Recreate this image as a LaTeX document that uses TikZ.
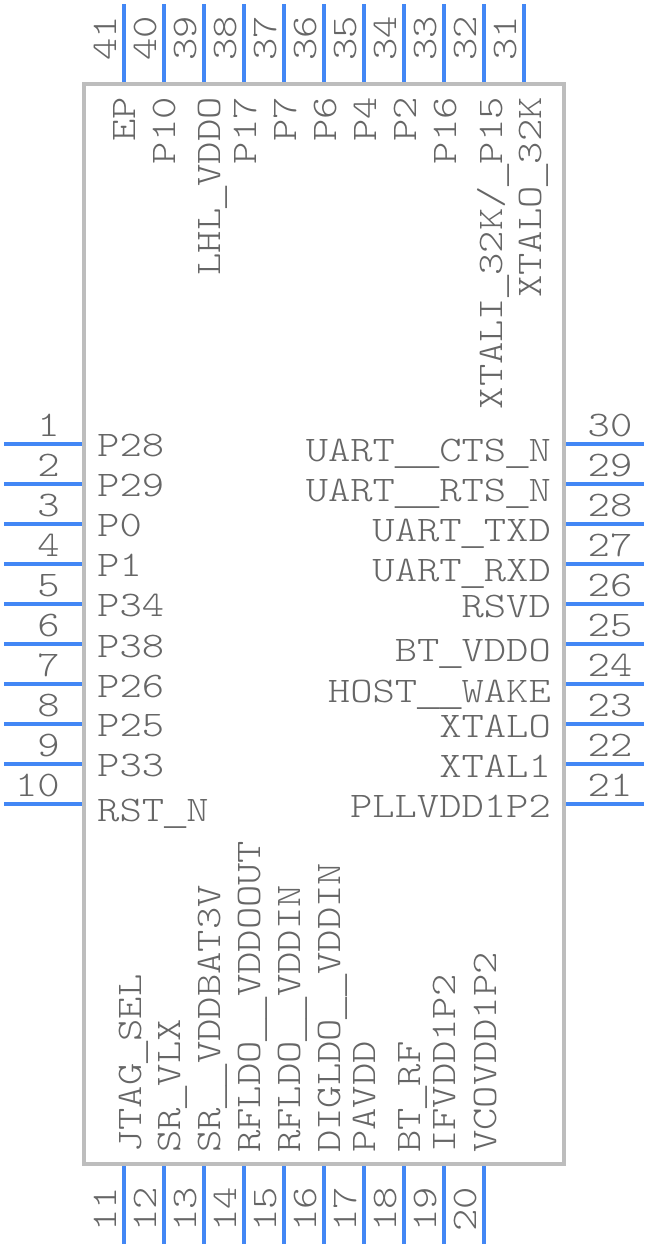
\documentclass[tikz,border=0pt]{standalone}
\usepackage{fontspec}
\newfontfamily\pinfont[FakeStretch=1.18]{Latin Modern Mono Light}
\newfontfamily\barfont{Liberation Mono}
\newcommand{\us}{\raisebox{-3pt}{\barfont\fontsize{37pt}{37pt}\selectfont\_}}
\definecolor{pinblue}{HTML}{4287F5}
\definecolor{bodygrey}{HTML}{BDBDBD}
\definecolor{textgrey}{HTML}{666666}
\tikzstyle{chip} = [draw=bodygrey,line width=4pt,minimum width=480pt,minimum height=1080pt,inner sep=0pt]
\tikzstyle{pin} = [draw=pinblue,line width=4pt,-]
\tikzstyle{pintext} = [text=textgrey,font=\pinfont\fontsize{36pt}{36pt}\selectfont,inner sep=0pt]
\tikzstyle{leftlabel} = [pintext,anchor=base west]
\tikzstyle{rightlabel} = [pintext,anchor=base east]
\tikzstyle{toplabel} = [pintext,rotate=90,anchor=base east]
\tikzstyle{bottomlabel} = [pintext,rotate=90,anchor=base west]
\begin{document}
\begin{tikzpicture}[x=1pt,y=-1pt]
    \useasboundingbox (0,0) rectangle (648,1248);
    \node[chip] (chip) at (324,624) {};
    % left side
    \foreach \num/\ypos/\ylab/\name in {1/444/456/P28, 2/484/496/P29, 3/524/536/P0, 4/564/576/P1, 5/604/616/P34,
                                        6/644/657/P38, 7/684/697/P26, 8/724/736/P25, 9/764/776/P33, 10/804/821/RST\us N} {
        \coordinate (end\num) at (4,\ypos);
        \path[pin] (chip.west |- end\num) -- (end\num);
        \node[pintext,anchor=base east] (num\num) at (60,\ypos-8) {\num};
        \node[leftlabel] (lab\num) at (97,\ylab) {\name};
    }
    % bottom side
    \foreach \num/\xpos/\xlab/\name in {11/124/141/JTAG\us SEL, 12/164/180/SR\us VLX, 13/204/220/SR\us\us VDDBAT3V,
                                        14/244/260/RFLDO\us\us VDDOOUT, 15/284/300/RFLDO\us\us VDDIN, 16/324/340/DIGLDO\us\us VDDIN,
                                        17/364/375/PAVDD, 18/404/420/BT\us RF, 19/444/455/IFVDD1P2, 20/484/496/VCOVDD1P2} {
        \coordinate (end\num) at (\xpos,1244);
        \path[pin] (chip.south -| end\num) -- (end\num);
        \node[pintext,rotate=90,anchor=base] (num\num) at (\xpos-8,1209) {\num};
        \node[bottomlabel] (lab\num) at (\xlab,1153) {\name};
    }
    % right side
    \foreach \num/\ypos/\ylab/\name in {21/804/817/PLLVDD1P2, 22/764/777/XTAL1, 23/724/737/XTALO, 24/684/702/HOST\us\us WAKE, 25/644/661/BT\us VDDO,
                                        26/604/617/RSVD, 27/564/581/UART\us RXD, 28/524/541/UART\us TXD, 29/484/501/UART\us\us RTS\us N, 30/444/461/UART\us\us CTS\us N} {
        \coordinate (end\num) at (644,\ypos);
        \path[pin] (chip.east |- end\num) -- (end\num);
        \node[pintext,anchor=base] (num\num) at (610,\ypos-8) {\num};
        \node[rightlabel] (lab\num) at (551,\ylab) {\name};
    }
    % top side
    \foreach \num/\xpos/\xlab/\name in {31/524/541/XTALO\us 32K, 32/484/502/{XTALI\us 32K/\us P15}, 33/444/456/P16, 34/404/416/P2, 35/364/376/P4,
                                        36/324/336/P6, 37/284/296/P7, 38/244/256/P17, 39/204/220/LHL\us VDDO, 40/164/175/P10, 41/124/135/EP} {
        \coordinate (end\num) at (\xpos,4);
        \path[pin] (chip.north -| end\num) -- (end\num);
        \node[pintext,rotate=90,anchor=base] (num\num) at (\xpos-8,38) {\num};
        \node[toplabel] (lab\num) at (\xlab,97) {\name};
    }
\end{tikzpicture}
\end{document}
